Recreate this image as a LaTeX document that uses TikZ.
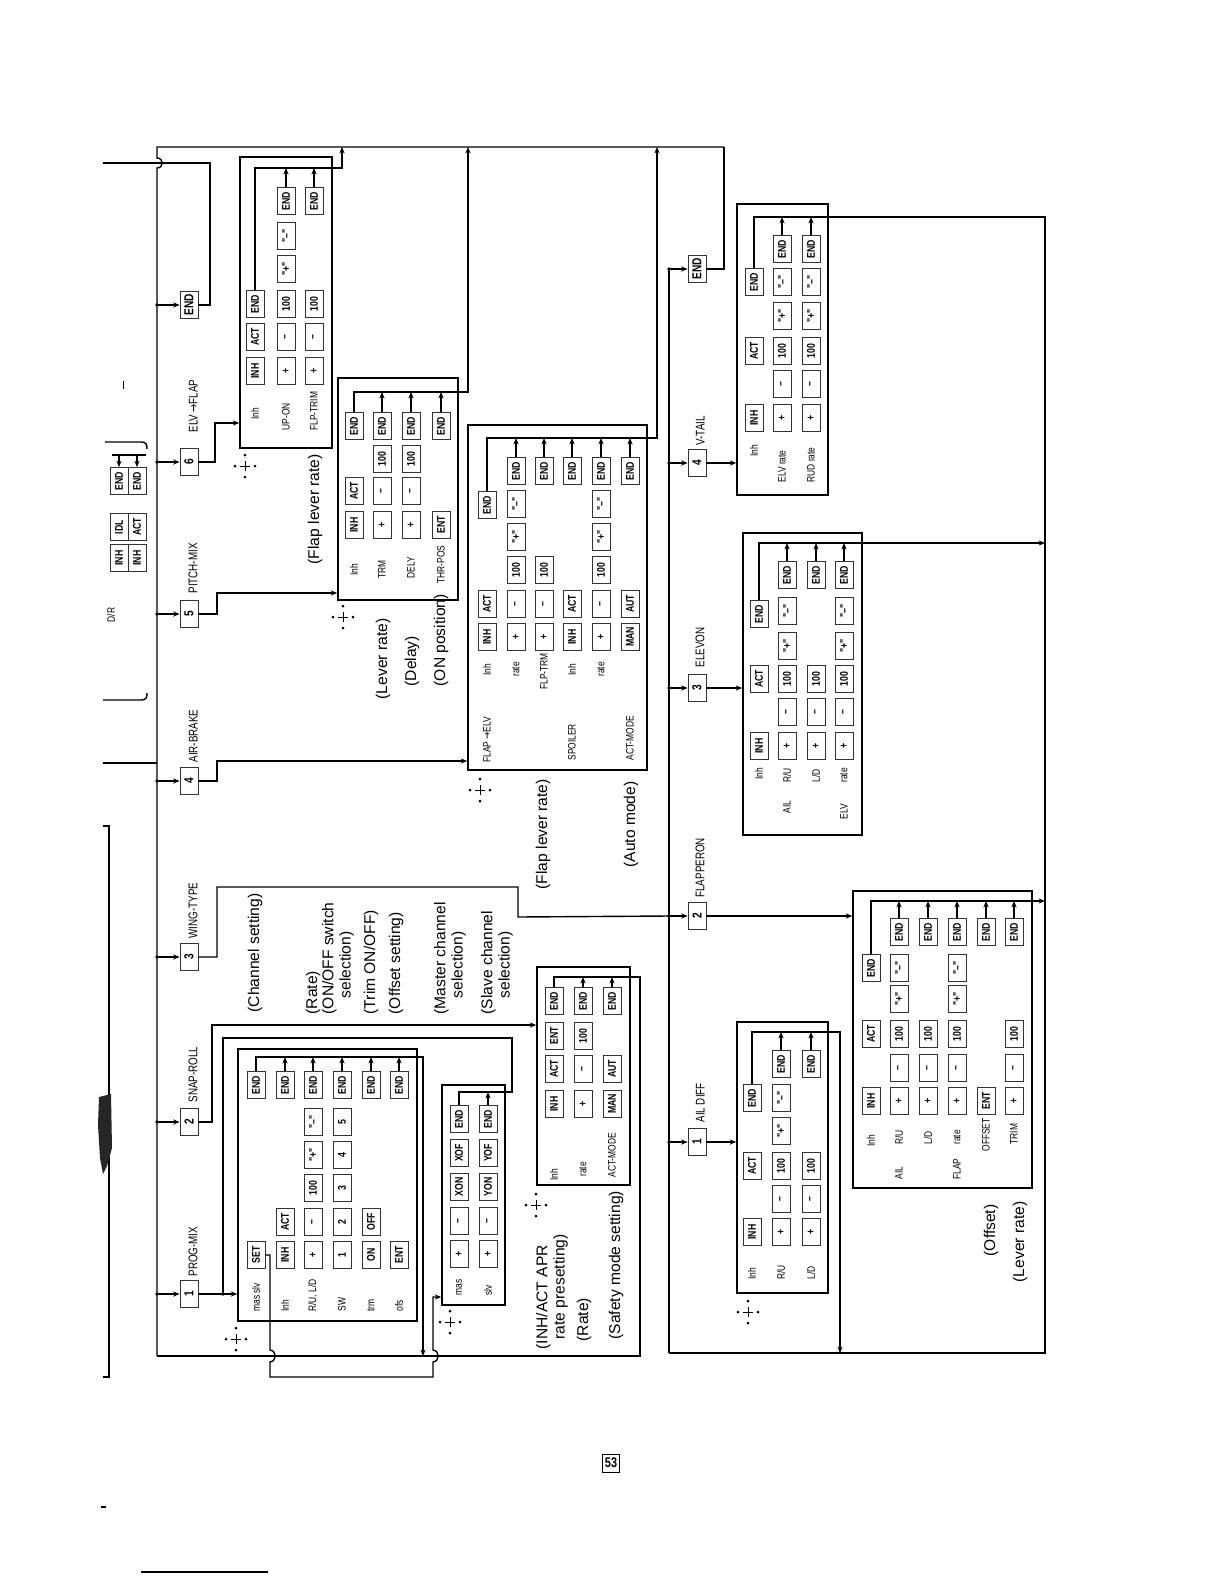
\documentclass[tikz,border=0pt]{standalone}
\usepackage{fontspec}
\setmainfont{Liberation Sans}
\newfontfamily\keyfont{Liberation Sans}[FakeStretch=0.78]
\newfontfamily\arrfont{DejaVu Sans}[FakeStretch=0.78]
\usetikzlibrary{arrows.meta,fit,positioning}

% one row of keys: prefix, x, list of y/label
\newcommand\keyrow[3]{%
  \foreach \yy/\kk [count=\ii] in {#3}
    {\node[keybox] (#1-\ii) at (#2,\yy) {\kk};}}
% cursor symbol
\newcommand\joymark[2]{%
  \draw[line width=0.45pt] (#1-5,#2) -- (#1+5,#2) (#1,#2-5) -- (#1,#2+5);
  \foreach \dx/\dy in {-10/0,10/0,0/-11,0/11}
    \fill[shift={(#1,#2)}] (\dx,\dy) circle[radius=0.75pt];}

\begin{document}
\begin{tikzpicture}[x=0.5pt, y=-0.5pt, line width=0.7pt,
  keybox/.style={draw=black!80, line width=0.4pt, rotate=90,
                 minimum width=13.5pt, minimum height=9pt, inner sep=0.3pt,
                 font=\keyfont\bfseries\fontsize{5.6}{6}\selectfont},
  numbox/.style={keybox, font=\keyfont\bfseries\fontsize{6.5}{7}\selectfont},
  rowlbl/.style={rotate=90, anchor=west, inner sep=0.4pt,
                 font=\keyfont\fontsize{5.4}{6}\selectfont},
  menulbl/.style={rotate=90, anchor=south west, inner sep=0.4pt,
                  font=\keyfont\fontsize{6.3}{7}\selectfont},
  note/.style={rotate=90, anchor=west, align=left, inner sep=0pt,
               font=\fontsize{7.8}{8.6}\selectfont},
  blk/.style={draw, line width=0.8pt, inner sep=0pt},
  arr/.style={draw, -{Stealth[length=3.2pt,width=2.6pt]}}
]
\useasboundingbox (0,0) rectangle (1224,1584);

% bus lines
\coordinate (topL) at (157,147);
\coordinate (topR) at (724,147);
\coordinate (botL) at (157,1356);
\coordinate (subT) at (669,269);
\coordinate (subB) at (669,1353);

\draw (topR) -- (topL) -- (157,158)
  .. controls (164,158) and (164,168) .. (157,168) -- (botL);
\draw (subT) -- (subB);

% main menu
\node[numbox] (m0) at (189,305) {END};
\node[numbox] (m6) at (189,462) {6};
\node[numbox] (m5) at (189,614) {5};
\node[numbox] (m4) at (189,781) {4};
\node[numbox] (m3) at (189,957) {3};
\node[numbox] (m2) at (189,1122) {2};
\node[numbox] (m1) at (189,1294) {1};
\foreach \mm in {m0,m6,m5,m4,m3,m2,m1} {
  \fill (\mm -| topL) circle[radius=0.9pt];
  \draw[arr] (\mm -| topL) -- (\mm);}

\node[menulbl] (l6) at (199,434) {ELV\,{\arrfont→}FLAP};
\node[menulbl] (l5) at (199,595) {PITCH-MIX};
\node[menulbl] (l4) at (199,764) {AIR-BRAKE};
\node[menulbl] (l3) at (199,940) {WING-TYPE};
\node[menulbl] (l2) at (199,1104) {SNAP-ROLL};
\node[menulbl] (l1) at (199,1278) {PROG-MIX};

\draw (m0) -| (210,163) -- (103,163);

% sub menu of WING-TYPE
\node[numbox] (s0) at (697,269) {END};
\node[numbox] (s4) at (697,463) {4};
\node[numbox] (s3) at (697,688) {3};
\node[numbox] (s2) at (697,916) {2};
\node[numbox] (s1) at (697,1142) {1};
\foreach \mm in {s0,s4,s3,s2,s1} {
  \fill (\mm -| subT) circle[radius=0.9pt];
  \draw[arr] (\mm -| subT) -- (\mm);}

\node[menulbl] (k4) at (706,447) {V-TAIL};
\node[menulbl] (k3) at (706,669) {ELEVON};
\node[menulbl] (k2) at (706,899) {FLAPPERON};
\node[menulbl] (k1) at (706,1124) {AIL DIFF};

\draw (s0) -| (topR);
\draw (m3) -| (217,887) -| (518,917) -- (s2 -| subT);

% ELV->FLAP
\node[blk, fit={(240,157) (332,448)}] (ef) {};
\node[rowlbl] (ef1l) at (255,421) {Inh};
\node[rowlbl] (ef2l) at (286,432) {UP-ON};
\node[rowlbl] (ef3l) at (314,432) {FLP-TRIM};
\keyrow{ef1}{255}{371/INH,337/ACT,304/END}
\keyrow{ef2}{286}{371/+,337/–,304/100,269/"+",236/"–",201/END}
\keyrow{ef3}{314}{371/+,337/–,304/100,201/END}
\coordinate (efR) at (342,168);
\draw[arr] (ef1-3) |- (efR) -- (efR |- topL);
\foreach \nd in {ef2-6,ef3-4} \draw[arr] (\nd) -- (\nd |- efR);
\draw[arr] (m6) -| (215,423) -- (ef.west |- 215,423);
\node[note] (efn) at (315,565) {(Flap lever rate)};
\joymark{245}{466}

% PITCH-MIX
\node[blk, fit={(338,378) (458,600)}] (pm) {};
\node[rowlbl] (pm1l) at (354,577) {Inh};
\node[rowlbl] (pm2l) at (382,580) {TRM};
\node[rowlbl] (pm3l) at (411,580) {DELY};
\node[rowlbl] (pm4l) at (441,585) {THR-POS};
\keyrow{pm1}{354}{525/INH,491/ACT,426/END}
\keyrow{pm2}{382}{525/+,491/–,459/100,426/END}
\keyrow{pm3}{411}{525/+,491/–,459/100,426/END}
\keyrow{pm4}{441}{525/ENT,426/END}
\coordinate (pmR) at (468,392);
\draw[arr] (pm1-3) |- (pmR) -- (pmR |- topL);
\foreach \nd in {pm2-4,pm3-4,pm4-2} \draw[arr] (\nd) -- (\nd |- pmR);
\draw[arr] (m5) -| (217,593) -- (pm.west |- 217,593);
\node[note] (pmn1) at (383,700) {(Lever rate)};
\node[note] (pmn2) at (412,687) {(Delay)};
\node[note] (pmn3) at (441,687) {(ON position)};
\joymark{343}{617}

% FLAP->ELV / SPOILER
\node[blk, fit={(468,425) (647,770)}] (fe) {};
\node[rowlbl] (fe1l) at (487,764) {FLAP\,{\arrfont→}ELV};
\node[rowlbl] (fe1i) at (487,677) {Inh};
\node[rowlbl] (fe2l) at (516,678) {rate};
\node[rowlbl] (fe3l) at (544,691) {FLP-TRM};
\node[rowlbl] (fe4l) at (572,762) {SPOILER};
\node[rowlbl] (fe4i) at (572,677) {Inh};
\node[rowlbl] (fe5l) at (601,678) {rate};
\node[rowlbl] (fe6l) at (630,762) {ACT-MODE};
\keyrow{fe1}{487}{637/INH,604/ACT,505/END}
\keyrow{fe2}{516}{637/+,604/–,570/100,537/"+",504/"–",471/END}
\keyrow{fe3}{544}{637/+,604/–,570/100,471/END}
\keyrow{fe4}{572}{637/INH,604/ACT,471/END}
\keyrow{fe5}{601}{637/+,604/–,570/100,537/"+",504/"–",471/END}
\keyrow{fe6}{630}{637/MAN,604/AUT,471/END}
\coordinate (feR) at (657,438);
\draw[arr] (fe1-3) |- (feR) -- (feR |- topL);
\foreach \nd in {fe2-6,fe3-4,fe4-3,fe5-6,fe6-3} \draw[arr] (\nd) -- (\nd |- feR);
\draw[arr] (m4) -| (217,761) -- (fe.west |- 217,761);
\node[note] (fen1) at (543,890) {(Flap lever rate)};
\node[note] (fen2) at (631,868) {(Auto mode)};
\joymark{480}{790}

% PROG-MIX
\node[blk, fit={(238,1049) (417,1321)}] (pg) {};
\node[rowlbl] (pg1l) at (256,1313) {mas slv};
\node[rowlbl] (pg2l) at (285,1313) {Inh};
\node[rowlbl] (pg3l) at (313,1313) {R/U, L/D};
\node[rowlbl] (pg4l) at (342,1313) {SW};
\node[rowlbl] (pg5l) at (371,1313) {trm};
\node[rowlbl] (pg6l) at (399,1313) {ofs};
\keyrow{pg1}{256}{1255/SET,1085/END}
\keyrow{pg2}{285}{1255/INH,1222/ACT,1085/END}
\keyrow{pg3}{313}{1255/+,1222/–,1188/100,1155/"+",1122/"–",1085/END}
\keyrow{pg4}{342}{1255/1,1222/2,1188/3,1155/4,1122/5,1085/END}
\keyrow{pg5}{371}{1255/ON,1222/OFF,1085/END}
\keyrow{pg6}{399}{1255/ENT,1085/END}
\coordinate (pgR) at (423,1057);
\draw[arr] (pg1-2) |- (pgR) -- (pgR |- botL);
\foreach \nd in {pg2-3,pg3-6,pg4-6,pg5-3,pg6-2} \draw[arr] (\nd) -- (\nd |- pgR);
\coordinate (pgJ) at (223,1294);
\draw[arr] (m1) -- (pg.west |- m1);
\fill (pgJ) circle[radius=0.9pt];
\node[note] (pgn1) at (255,1013) {(Channel setting)};
\node[note] (pgn2) at (313,1015) {(Rate)};
\node[note] (pgn3) at (338,1015) {(ON/OFF switch\\\hspace{8pt}selection)};
\node[note] (pgn4) at (371,1015) {(Trim ON/OFF)};
\node[note] (pgn5) at (396,1015) {(Offset setting)};
\node[note] (pgn6) at (450,1015) {(Master channel\\\hspace{8pt}selection)};
\node[note] (pgn7) at (497,1015) {(Slave channel\\\hspace{8pt}selection)};
\joymark{236}{1339}

% master / slave
\node[blk, fit={(442,1085) (505,1305)}] (ms) {};
\node[rowlbl] (ms1l) at (459,1297) {mas};
\node[rowlbl] (ms2l) at (488,1297) {slv};
\keyrow{ms1}{459}{1254/+,1221/–,1187/XON,1153/XOF,1119/END}
\keyrow{ms2}{488}{1254/+,1221/–,1187/YON,1153/YOF,1119/END}
\coordinate (msR) at (512,1092);
\draw (ms1-5) |- (msR) |- (223,1038) -- (pgJ);
\draw[arr] (ms2-5) -- (ms2-5 |- msR);
\draw[arr] (pg1-1) -| (270,1350) .. controls (277,1351) and (277,1361) .. (270,1362)
  |- (433,1377) -- (433,1362) .. controls (440,1361) and (440,1351) .. (433,1350)
  |- (ms.west |- 0,1297);
\joymark{450}{1322}

% SNAP-ROLL
\node[blk, fit={(537,967) (630,1185)}] (ia) {};
\node[rowlbl] (ia1l) at (554,1182) {Inh};
\node[rowlbl] (ia2l) at (583,1178) {rate};
\node[rowlbl] (ia3l) at (612,1179) {ACT-MODE};
\keyrow{ia1}{554}{1104/INH,1069/ACT,1036/ENT,1001/END}
\keyrow{ia2}{583}{1104/+,1069/–,1036/100,1001/END}
\keyrow{ia3}{612}{1104/MAN,1069/AUT,1001/END}
\coordinate (iaR) at (640,977);
\draw (ia1-4) |- (iaR) |- (botL);
\foreach \nd in {ia2-4,ia3-3} \draw[arr] (\nd) -- (\nd |- iaR);
\draw[arr] (m2) -| (212,1025) -- (ia.west |- 212,1025);
\node[note] (ian1) at (552,1350) {(INH/ACT APR\\\hspace{5pt}rate presetting)};
\node[note] (ian2) at (584,1342) {(Rate)};
\node[note] (ian3) at (616,1340) {(Safety mode setting)};
\joymark{536}{1205}

% V-TAIL
\node[blk, fit={(737,204) (828,495)}] (vt) {};
\node[rowlbl] (vt1l) at (754,458) {Inh};
\node[rowlbl] (vt2l) at (782,484) {ELV rate};
\node[rowlbl] (vt3l) at (811,484) {RUD rate};
\keyrow{vt1}{754}{418/INH,351/ACT,282/END}
\keyrow{vt2}{782}{418/+,384/–,351/100,316/"+",282/"–",249/END}
\keyrow{vt3}{811}{418/+,384/–,351/100,316/"+",282/"–",249/END}
\coordinate (vtR) at (1045,217);
\draw (vt1-3) |- (vtR) |- (subB);
\foreach \nd in {vt2-6,vt3-6} \draw[arr] (\nd) -- (\nd |- vtR);
\draw[arr] (s4) -- (vt.west |- s4);

% ELEVON
\node[blk, fit={(743,533) (862,835)}] (el) {};
\node[rowlbl] (el1l) at (759,781) {Inh};
\node[rowlbl] (el2a) at (787,815) {AIL};
\node[rowlbl] (el2l) at (787,784) {R/U};
\node[rowlbl] (el3l) at (816,784) {L/D};
\node[rowlbl] (el4a) at (844,821) {ELV};
\node[rowlbl] (el4l) at (844,784) {rate};
\keyrow{el1}{759}{746/INH,679/ACT,614/END}
\keyrow{el2}{787}{746/+,712/–,679/100,646/"+",611/"–",575/END}
\keyrow{el3}{816}{746/+,712/–,679/100,575/END}
\keyrow{el4}{844}{746/+,712/–,679/100,646/"+",611/"–",575/END}
\coordinate (elR) at (1045,543);
\draw[arr] (el1-3) |- (elR);
\foreach \nd in {el2-6,el3-4,el4-6} \draw[arr] (\nd) -- (\nd |- elR);
\draw[arr] (s3) -- (el.west |- s3);

% AIL DIFF
\node[blk, fit={(737,1022) (828,1293)}] (ad) {};
\node[rowlbl] (ad1l) at (752,1281) {Inh};
\node[rowlbl] (ad2l) at (781,1281) {R/U};
\node[rowlbl] (ad3l) at (811,1281) {L/D};
\keyrow{ad1}{752}{1232/INH,1166/ACT,1098/END}
\keyrow{ad2}{781}{1232/+,1199/–,1166/100,1131/"+",1098/"–",1064/END}
\keyrow{ad3}{811}{1232/+,1199/–,1166/100,1064/END}
\coordinate (adR) at (840,1032);
\draw[arr] (ad1-3) |- (adR) -- (adR |- subB);
\foreach \nd in {ad2-6,ad3-4} \draw[arr] (\nd) -- (\nd |- adR);
\draw[arr] (s1) -- (ad.west |- s1);
\joymark{748}{1312}

% FLAPPERON
\node[blk, fit={(853,891) (1032,1188)}] (fp) {};
\node[rowlbl] (fp1l) at (871,1148) {Inh};
\node[rowlbl] (fp2a) at (899,1181) {AIL};
\node[rowlbl] (fp2l) at (899,1146) {R/U};
\node[rowlbl] (fp3l) at (928,1146) {L/D};
\node[rowlbl] (fp4a) at (957,1181) {FLAP};
\node[rowlbl] (fp4l) at (957,1146) {rate};
\node[rowlbl] (fp5l) at (986,1153) {OFFSET};
\node[rowlbl] (fp6l) at (1014,1146) {TRIM};
\keyrow{fp1}{871}{1101/INH,1034/ACT,968/END}
\keyrow{fp2}{899}{1101/+,1068/–,1034/100,999/"+",968/"–",932/END}
\keyrow{fp3}{928}{1101/+,1068/–,1034/100,932/END}
\keyrow{fp4}{957}{1101/+,1068/–,1034/100,999/"+",968/"–",932/END}
\keyrow{fp5}{986}{1101/ENT,932/END}
\keyrow{fp6}{1014}{1101/+,1068/–,1034/100,932/END}
\coordinate (fpR) at (1045,901);
\draw[arr] (fp1-3) |- (fpR);
\foreach \nd in {fp2-6,fp3-4,fp4-6,fp5-2,fp6-4} \draw[arr] (\nd) -- (\nd |- fpR);
\draw[arr] (s2) -- (fp.west |- s2);
\node[note] (fpn1) at (991,1257) {(Offset)};
\node[note] (fpn2) at (1020,1283) {(Lever rate)};

% end of the previous page's chart
\node[rowlbl, anchor=center] (drl) at (111,615) {D/R};
\keyrow{dr1}{119}{558/INH,527/IDL,481/END}
\keyrow{dr2}{137}{558/INH,527/ACT,481/END}
\coordinate (drR) at (146,455);
\draw (drR) -- ++(-34,0);
\foreach \nd in {dr1-3,dr2-3} \draw[arr] (\nd |- drR) -- (\nd);
\draw (105,442) -- (141,442) .. controls (146,442) and (147,444) .. (147,449);
\draw (103,700) -- (141,700) .. controls (146,700) and (147,698) .. (147,693);
\draw (103,763) -- (157,763);
\draw (103,826) -- (109,826) -- (109,1377) -- (103,1377);
\fill[black!85] (99,1097) -- (111,1094) -- (112,1148) -- (107,1166)
  -- (103,1174) -- (100,1158) -- (98,1125) -- cycle;
\draw[line width=0.5pt] (123,381) -- (123,389);

% page number
\node[draw, line width=0.5pt, minimum width=8.5pt, minimum height=9pt,
      inner sep=0.5pt, font=\keyfont\bfseries\fontsize{7}{8}\selectfont]
  (pno) at (611,1463) {53};
\draw (101,1507) -- (106,1507);
\draw[line width=0.6pt] (141,1572) -- (268,1572);
\end{tikzpicture}
\end{document}
